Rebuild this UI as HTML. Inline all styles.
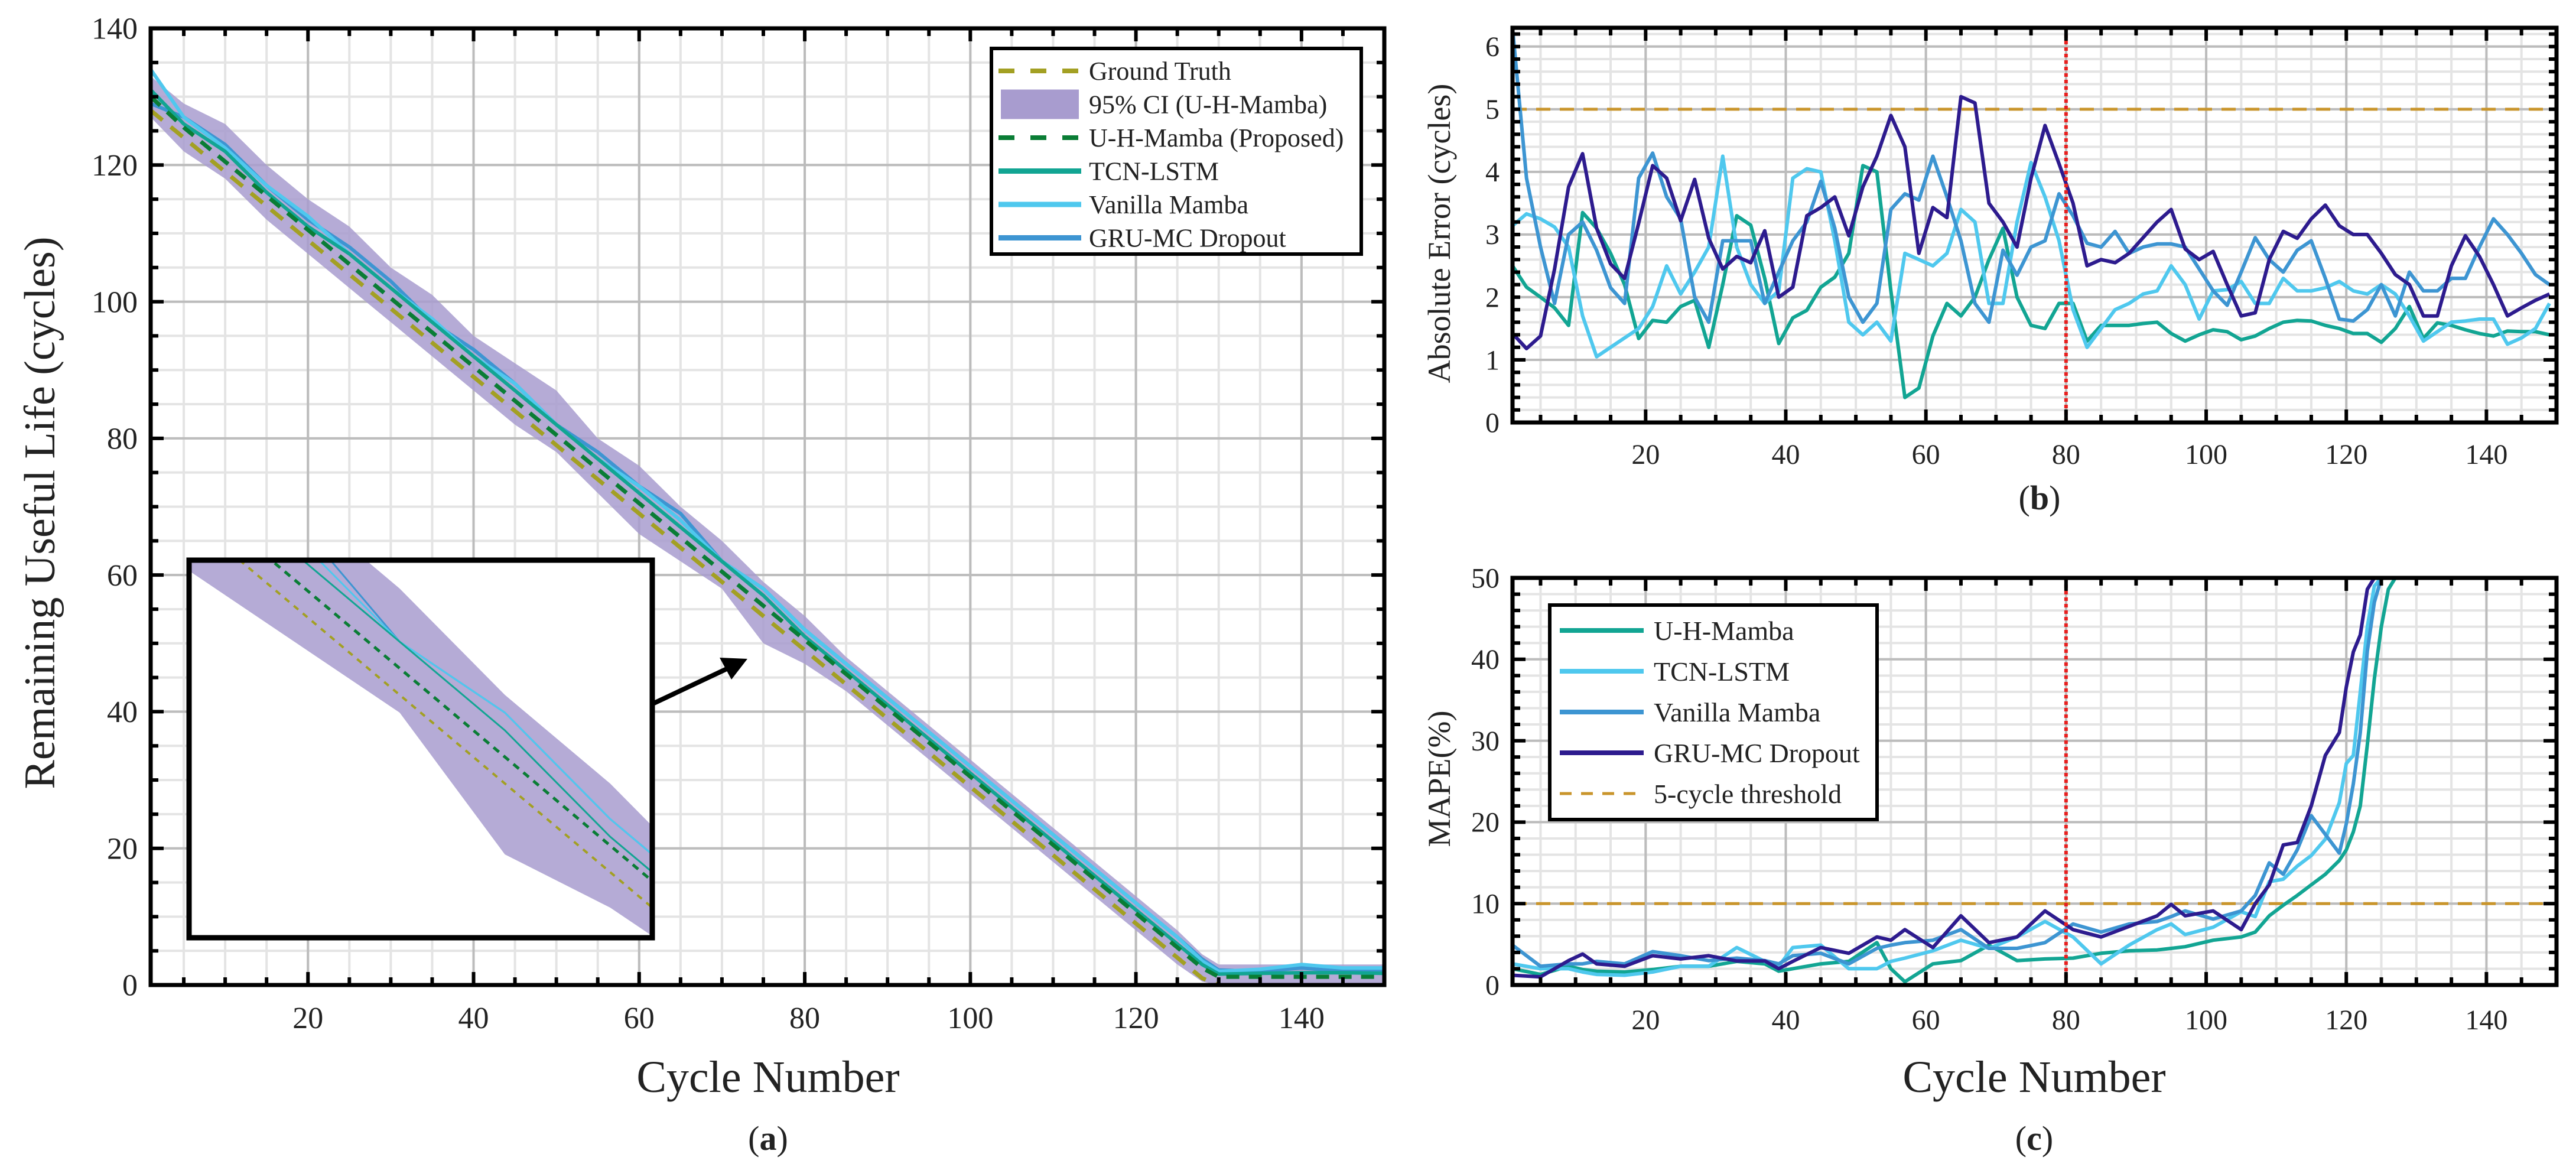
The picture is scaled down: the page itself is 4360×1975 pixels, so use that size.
<!DOCTYPE html>
<html><head><meta charset="utf-8">
<style>
html,body{margin:0;padding:0;background:#fff;width:4360px;height:1975px;overflow:hidden;}
svg{display:block;}
text{font-family:"Liberation Serif","DejaVu Serif",serif;fill:#222;}
</style></head>
<body>
<svg id="fig" xmlns="http://www.w3.org/2000/svg" width="4360" height="1975" viewBox="0 0 4360 1975"></svg>
<script>
// ---------- Panel (a) data ----------
const cyclesA = [1,5,10,15,20,25,30,35,40,45,50,55,60,65,70,75,80,85,90,95,100,105,110,115,120,125,128,130,135,140,145,150];
const groundTruth = [128,124,119,114,109,104,99,94,89,84,79,74,69,64,59,54,49,44,39,34,29,24,19,14,9,4,1,0,0,0,0,0];
const uhMambaPred = [130,125.5,120.5,115.5,110.5,105.5,100.5,95.5,90.5,85.5,80.5,75.5,70.5,65.5,60.5,55.5,50.5,45.5,40.5,35.5,30.5,25.5,20.5,15.5,10.5,5.5,2.5,1.2,1.2,1.2,1.2,1.2];
const tcnPredA = [131,126,122,116,111,107,102,97,92,87,82,77,72,67,62,57,51,46,41,36,31,26,21,16,11,6,3,1.6,1.7,1.8,1.8,1.7];
const vanillaPredA = [134,127,122.5,117,112.5,107,102,97.5,92,88,82,77,73,68,62,58,52,47,42,37,32,27,22,17,12,7,3.5,2,2.3,3,2.5,2.5];
const gruPredA = [129,127,123,117,112,108,103,97,93,88,82,78,73,69,62,58,52,47,42,37,32,27,22,17,12,7,3.8,2.2,2,2.5,2,2.2];
const ciUpper = [133,129,126,120,115,111,105,101,95,91,87,80,76,70,65,59,54,48,43,38,33,28,23,18,13,8,4.5,3,3,3,3,3];
const ciLower = [127,122,118,112,107,102,97,92,87,82,78,72,66,62,58,50,47,43,38,33,28,23,18,13,8,3,0.5,0,0,0,0,0];
const ticksAX = [20,40,60,80,100,120,140];
const ticksAY = [0,20,40,60,80,100,120,140];

// ---------- Panel (b) data: absolute error ----------
const cyclesB = [1,3,5,7,9,11,13,15,17,19,21,23,25,27,29,31,33,35,37,39,41,43,45,47,49,51,53,55,57,59,61,63,65,67,69,71,73,75,77,79,81,83,85,87,89,91,93,95,97,99,101,103,105,107,109,111,113,115,117,119,121,123,125,127,129,131,133,135,137,139,141,143,145,147,149];
const errUH = [2.5,2.16,2.0,1.83,1.55,3.35,3.1,2.7,2.2,1.34,1.63,1.6,1.85,1.95,1.2,2.2,3.3,3.15,2.3,1.26,1.67,1.79,2.16,2.32,2.7,4.1,4.0,2.1,0.4,0.55,1.38,1.9,1.7,2.0,2.6,3.1,2.0,1.55,1.5,1.9,1.9,1.3,1.55,1.55,1.55,1.58,1.6,1.42,1.3,1.4,1.48,1.45,1.32,1.38,1.5,1.6,1.63,1.62,1.55,1.5,1.42,1.42,1.28,1.5,1.85,1.34,1.59,1.55,1.48,1.42,1.38,1.46,1.45,1.45,1.4];
const errTCN = [3.14,3.33,3.25,3.12,2.8,1.7,1.05,1.2,1.35,1.5,1.85,2.5,2.05,2.4,2.8,4.25,2.8,2.2,1.9,2.1,3.9,4.05,4.0,2.9,1.6,1.4,1.6,1.3,2.7,2.6,2.5,2.7,3.4,3.2,1.9,1.9,3.2,4.15,3.6,2.9,1.8,1.2,1.5,1.8,1.9,2.05,2.1,2.5,2.2,1.65,2.1,2.12,2.25,1.9,1.9,2.3,2.1,2.1,2.15,2.25,2.1,2.05,2.2,2.05,1.7,1.3,1.45,1.6,1.62,1.65,1.65,1.25,1.35,1.5,1.9];
const errVanilla = [6.3,3.9,2.8,1.9,3.0,3.2,2.75,2.15,1.9,3.9,4.3,3.6,3.25,2.0,1.6,2.9,2.9,2.9,1.9,2.4,2.9,3.2,3.85,3.1,2.0,1.6,1.9,3.4,3.65,3.55,4.25,3.6,2.9,1.9,1.6,2.75,2.35,2.8,2.9,3.65,3.3,2.86,2.8,3.05,2.7,2.8,2.85,2.85,2.8,2.45,2.1,1.87,2.4,2.95,2.6,2.4,2.75,2.9,2.3,1.65,1.62,1.8,2.2,1.7,2.4,2.1,2.1,2.3,2.3,2.8,3.25,3.0,2.7,2.36,2.2];
const errGRU = [1.42,1.18,1.38,2.45,3.76,4.29,3.1,2.53,2.3,3.18,4.1,3.9,3.22,3.88,2.94,2.45,2.65,2.55,3.06,2.0,2.16,3.3,3.43,3.6,2.98,3.76,4.25,4.9,4.4,2.7,3.43,3.27,5.2,5.1,3.5,3.2,2.8,3.9,4.74,4.13,3.5,2.5,2.6,2.55,2.7,2.95,3.2,3.4,2.77,2.6,2.73,2.2,1.7,1.75,2.6,3.05,2.94,3.25,3.47,3.14,3.0,3.0,2.7,2.36,2.2,1.7,1.7,2.5,2.98,2.65,2.2,1.7,1.83,1.95,2.05];
const ticksBY = [0,1,2,3,4,5,6];
const thresholdB = 5;

// ---------- Panel (c) data: MAPE ----------
const cyclesC = [1,5,9,11,13,17,21,25,29,33,37,39,41,45,49,53,55,57,61,65,69,73,77,81,85,89,93,95,97,101,105,107,109,111,113,115,117,119,120,121,122,123,124,125,126,127,150];
const mapeUH = [2.0,1.3,2.3,1.9,1.7,1.6,1.9,2.3,2.3,2.9,2.6,1.7,2.0,2.6,2.9,5.2,2.0,0.4,2.6,3.0,4.9,3.0,3.2,3.3,3.9,4.2,4.3,4.5,4.7,5.5,5.9,6.5,8.5,9.8,11,12.3,13.6,15.3,16.6,18.8,22,29.5,37.6,44,48.6,50,50];
const mapeTCN = [2.6,2.0,2.0,1.6,1.3,1.2,1.6,2.3,2.3,4.6,2.9,2.3,4.6,4.9,2.0,2.0,2.9,3.3,4.2,5.5,4.5,5.9,7.8,5.9,2.6,4.9,6.8,7.5,6.2,7.1,9.0,8.4,12.7,13,14.6,15.9,17.9,22.4,27.2,28.2,36,44,49,50,50,50,50];
const mapeVanilla = [4.9,2.3,2.6,2.6,2.9,2.6,4.1,3.6,3.0,3.3,3.0,2.6,3.6,3.9,2.6,4.5,4.9,5.2,5.5,6.8,4.5,4.5,5.2,7.5,6.5,7.5,7.8,8.4,9.1,8.1,9.1,11,15,13.6,16.6,20.8,18.5,16.2,19.8,24.7,31,41,47,50,50,50,50];
const mapeGRU = [1.2,1.0,3.0,3.8,2.6,2.3,3.6,3.2,3.6,2.95,2.95,2.0,2.9,4.6,3.9,5.9,5.5,6.8,4.6,8.5,5.2,5.9,9.1,6.8,5.9,7.2,8.5,9.9,8.5,9.1,6.8,10,12.3,17.2,17.5,22,28.2,31,36.6,40.9,43,48.6,50,50,50,50,50];
const ticksCY = [0,10,20,30,40,50];
const thresholdC = 10;
const splitCycle = 80;

const NS = "http://www.w3.org/2000/svg";
const svg = document.getElementById("fig");
function mk(tag, attrs, parent){
  const e = document.createElementNS(NS, tag);
  for (const k in attrs) e.setAttribute(k, attrs[k]);
  (parent||svg).appendChild(e);
  return e;
}
function lin(d0,d1,r0,r1){ return v => r0 + (v-d0)*(r1-r0)/(d1-d0); }
function pts(xs, ys, sx, sy){ return xs.map((x,i)=>sx(x).toFixed(1)+","+sy(ys[i]).toFixed(1)).join(" "); }

const C = {teal:"#12a593", light:"#4fc8ee", med:"#3d95d2", dark:"#2d1b8e", olive:"#a3a023", green:"#0a7d35", ci:"#a89ccf", thr:"#c9952c", red:"#e8201f"};

function drawGrid(g, P, xMinor, yMinor, xMajor, yMajor){
  for (let v=xMinor[0]; v<=P.xd[1]; v+=xMinor[1]){
    const l = mk("line",{x1:P.sx(v),x2:P.sx(v),y1:P.y0,y2:P.y1,stroke:"#e4e4e4","stroke-width":4},g);
     
  }
  for (let v=yMinor[0]; v<=P.yd[1]; v+=yMinor[1]){
    const l = mk("line",{x1:P.x0,x2:P.x1,y1:P.sy(v),y2:P.sy(v),stroke:"#e4e4e4","stroke-width":4},g);
     
  }
  xMajor.forEach(v=>{
    const l = mk("line",{x1:P.sx(v),x2:P.sx(v),y1:P.y0,y2:P.y1,stroke:"#bcbcbc","stroke-width":4},g);
     
  });
  yMajor.forEach(v=>{
    const l = mk("line",{x1:P.x0,x2:P.x1,y1:P.sy(v),y2:P.sy(v),stroke:"#bcbcbc","stroke-width":4},g);
     
  });
}
function drawFrame(g, P, xMinor, yMinor, xMajor, yMajor, ySize, xLabelY){
  for (let v=xMinor[0]; v<=P.xd[1]; v+=xMinor[1]){
    const L = xMajor.includes(v)?22:13, x=P.sx(v);
    mk("line",{x1:x,x2:x,y1:P.y1,y2:P.y1-L,stroke:"#000","stroke-width":6},g);
    mk("line",{x1:x,x2:x,y1:P.y0,y2:P.y0+L,stroke:"#000","stroke-width":6},g);
  }
  for (let v=yMinor[0]; v<=P.yd[1]; v+=yMinor[1]){
    const L = yMajor.includes(v)?22:13, y=P.sy(v);
    mk("line",{x1:P.x0,x2:P.x0+L,y1:y,y2:y,stroke:"#000","stroke-width":6},g);
    mk("line",{x1:P.x1,x2:P.x1-L,y1:y,y2:y,stroke:"#000","stroke-width":6},g);
  }
  const fr = mk("rect",{x:P.x0,y:P.y0,width:P.x1-P.x0,height:P.y1-P.y0,fill:"none",stroke:"#000","stroke-width":7},g);
   
  xMajor.forEach(v=>{
    const t = mk("text",{x:P.sx(v),y:xLabelY,"text-anchor":"middle","font-size":ySize},g);
    t.textContent = v;
     
  });
  yMajor.forEach(v=>{
    const t = mk("text",{x:P.x0-22,y:P.sy(v)+ySize*0.34,"text-anchor":"end","font-size":ySize},g);
    t.textContent = v;
     
  });
}
function series(g, xs, ys, P, color, w, dash, name){
  const a = {points:pts(xs,ys,P.sx,P.sy),fill:"none",stroke:color,"stroke-width":w,"stroke-linejoin":"round","stroke-linecap":"butt"};
  if (dash) a["stroke-dasharray"]=dash;
  const p = mk("polyline",a,g);
  
  
  return p;
}
function bandPath(xs, lo, hi, P){
  let d = "M"+xs.map((x,i)=>P.sx(x).toFixed(1)+","+P.sy(hi[i]).toFixed(1)).join(" L");
  for (let i=xs.length-1;i>=0;i--) d += " L"+P.sx(xs[i]).toFixed(1)+","+P.sy(lo[i]).toFixed(1);
  return d+" Z";
}

const defs = mk("defs",{});
function clip(id,x,y,w,h){ const c=mk("clipPath",{id:id},defs); mk("rect",{x:x,y:y,width:w,height:h},c); }

// ================= Panel A =================
const PA = {x0:255,x1:2343,y0:48,y1:1667,xd:[1,150],yd:[0,140]};
PA.sx = lin(1,150,PA.x0,PA.x1); PA.sy = lin(0,140,PA.y1,PA.y0);
clip("clipA",PA.x0,PA.y0,PA.x1-PA.x0,PA.y1-PA.y0);
const gA = mk("g",{});  
drawGrid(gA, PA, [5,5], [5,5], ticksAX, ticksAY);
const gAd = mk("g",{"clip-path":"url(#clipA)"},gA);
const band = mk("path",{d:bandPath(cyclesA,ciLower,ciUpper,PA),fill:C.ci,"fill-opacity":0.85},gAd);
 
series(gAd,cyclesA,groundTruth,PA,C.olive,7,"26,18","ground-truth-line");
series(gAd,cyclesA,gruPredA,PA,C.med,6,null,"gru-mc-dropout-line");
series(gAd,cyclesA,vanillaPredA,PA,C.light,6,null,"vanilla-mamba-line");
series(gAd,cyclesA,tcnPredA,PA,C.teal,6,null,"tcn-lstm-line");
series(gAd,cyclesA,uhMambaPred,PA,C.green,7,"22,16","u-h-mamba-line");
drawFrame(gA, PA, [5,5], [5,5], ticksAX, ticksAY, 52, 1740);

// inset
const IN = {x0:320,x1:1104,y0:948,y1:1587,xd:[60,82],yd:[45.3,66.6]};
IN.sx = lin(60,82,IN.x0,IN.x1); IN.sy = lin(45.3,66.6,IN.y1,IN.y0);
clip("clipIn",IN.x0,IN.y0,IN.x1-IN.x0,IN.y1-IN.y0);
const gI = mk("g",{});  
mk("rect",{x:IN.x0,y:IN.y0,width:IN.x1-IN.x0,height:IN.y1-IN.y0,fill:"#fff"},gI);
const gIc = mk("g",{"clip-path":"url(#clipIn)"},gI);
const band2 = mk("path",{d:bandPath(cyclesA,ciLower,ciUpper,IN),fill:C.ci,"fill-opacity":0.85},gIc);
 
series(gIc,cyclesA,groundTruth,IN,C.olive,4,"10,10","inset-ground-truth");
series(gIc,cyclesA,uhMambaPred,IN,C.green,5,"12,10","inset-u-h-mamba");
series(gIc,cyclesA,gruPredA,IN,C.med,3,null,"inset-gru");
series(gIc,cyclesA,vanillaPredA,IN,C.light,3,null,"inset-vanilla");
series(gIc,cyclesA,tcnPredA,IN,C.teal,3,null,"inset-tcn");
const ib = mk("rect",{x:IN.x0,y:IN.y0,width:IN.x1-IN.x0,height:IN.y1-IN.y0,fill:"none",stroke:"#000","stroke-width":9},gI);
 
const ar = mk("line",{x1:1107,y1:1190,x2:1232,y2:1131,stroke:"#000","stroke-width":8});
 
const ah = mk("polygon",{points:"1265,1115 1218,1113 1238,1150",fill:"#000"});
 

// legend A
const gLA = mk("g",{});  
mk("rect",{x:1678,y:82,width:626,height:348,fill:"#fff",stroke:"#000","stroke-width":6},gLA);
const legA = [["Ground Truth",C.olive,"dash"],["95% CI (U-H-Mamba)",C.ci,"box"],["U-H-Mamba (Proposed)",C.green,"dash"],["TCN-LSTM",C.teal,"line"],["Vanilla Mamba",C.light,"line"],["GRU-MC Dropout",C.med,"line"]];
legA.forEach((e,i)=>{
  const y = 120 + i*56.5;
  const g = mk("g",{},gLA);  
  if (e[2]==="box") mk("rect",{x:1694,y:y-25,width:132,height:50,fill:e[1]},g);
  else mk("line",{x1:1690,x2:1830,y1:y,y2:y,stroke:e[1],"stroke-width":e[2]==="dash"?8:9,"stroke-dasharray":e[2]==="dash"?"27,27":"none"},g);
  const t = mk("text",{x:1843,y:y+15,"font-size":44},g); t.textContent=e[0];
});

let t;
t = mk("text",{x:0,y:0,"font-size":74,"text-anchor":"middle",transform:"translate(92,868) rotate(-90)"}); t.textContent="Remaining Useful Life (cycles)";
 
t = mk("text",{x:1300,y:1848,"font-size":76,"text-anchor":"middle"}); t.textContent="Cycle Number";
 
t = mk("text",{x:1300,y:1946,"font-size":58,"text-anchor":"middle"}); t.innerHTML='(<tspan font-weight="bold">a</tspan>)';
 

// ================= Panel B =================
const PB = {x0:2560,x1:4327,y0:47,y1:715,xd:[1,150],yd:[0,6.3]};
PB.sx = lin(1,150,PB.x0,PB.x1); PB.sy = lin(0,6.3,PB.y1,PB.y0);
clip("clipB",PB.x0,PB.y0,PB.x1-PB.x0,PB.y1-PB.y0);
const gB = mk("g",{});  
drawGrid(gB, PB, [5,5], [0.2,0.2], ticksAX, ticksBY);
const gBd = mk("g",{"clip-path":"url(#clipB)"},gB);
let l = mk("line",{x1:PB.x0,x2:PB.x1,y1:PB.sy(thresholdB),y2:PB.sy(thresholdB),stroke:C.thr,"stroke-width":5,"stroke-dasharray":"24,16"},gBd);
 
series(gBd,cyclesB,errUH,PB,C.teal,6,null,"u-h-mamba-error");
series(gBd,cyclesB,errTCN,PB,C.light,6,null,"tcn-lstm-error");
series(gBd,cyclesB,errVanilla,PB,C.med,6,null,"vanilla-mamba-error");
series(gBd,cyclesB,errGRU,PB,C.dark,6,null,"gru-mc-dropout-error");
l = mk("line",{x1:PB.sx(splitCycle),x2:PB.sx(splitCycle),y1:PB.y0,y2:PB.y1,stroke:C.red,"stroke-width":6,"stroke-dasharray":"6,5"},gB);
 
drawFrame(gB, PB, [5,5], [0.2,0.2], ticksAX, ticksBY, 48, 785);
t = mk("text",{x:0,y:0,"font-size":54,"text-anchor":"middle",transform:"translate(2454,395) rotate(-90)"}); t.textContent="Absolute Error (cycles)";
 
t = mk("text",{x:3452,y:862,"font-size":58,"text-anchor":"middle"}); t.innerHTML='(<tspan font-weight="bold">b</tspan>)';
 

// ================= Panel C =================
const PC = {x0:2560,x1:4327,y0:978,y1:1667,xd:[1,150],yd:[0,50]};
PC.sx = lin(1,150,PC.x0,PC.x1); PC.sy = lin(0,50,PC.y1,PC.y0);
clip("clipC",PC.x0,PC.y0-5,PC.x1-PC.x0,PC.y1-PC.y0+5);
const gC = mk("g",{});  
drawGrid(gC, PC, [5,5], [2,2], ticksAX, ticksCY);
const gCd = mk("g",{"clip-path":"url(#clipC)"},gC);
l = mk("line",{x1:PC.x0,x2:PC.x1,y1:PC.sy(thresholdC),y2:PC.sy(thresholdC),stroke:C.thr,"stroke-width":5,"stroke-dasharray":"24,16"},gCd);
 
series(gCd,cyclesC,mapeUH,PC,C.teal,6,null,"u-h-mamba-mape");
series(gCd,cyclesC,mapeTCN,PC,C.light,6,null,"tcn-lstm-mape");
series(gCd,cyclesC,mapeVanilla,PC,C.med,6,null,"vanilla-mamba-mape");
series(gCd,cyclesC,mapeGRU,PC,C.dark,6,null,"gru-mc-dropout-mape");
l = mk("line",{x1:PC.sx(splitCycle),x2:PC.sx(splitCycle),y1:PC.y0,y2:PC.y1,stroke:C.red,"stroke-width":6,"stroke-dasharray":"6,5"},gC);
 
drawFrame(gC, PC, [5,5], [2,2], ticksAX, ticksCY, 48, 1742);
const gLC = mk("g",{});  
mk("rect",{x:2623,y:1024,width:554,height:363,fill:"#fff",stroke:"#000","stroke-width":6},gLC);
const legC = [["U-H-Mamba",C.teal,"line"],["TCN-LSTM",C.light,"line"],["Vanilla Mamba",C.med,"line"],["GRU-MC Dropout",C.dark,"line"],["5-cycle threshold",C.thr,"dash"]];
legC.forEach((e,i)=>{
  const y = 1067 + i*69;
  const g = mk("g",{},gLC);  
  mk("line",{x1:2640,x2:2782,y1:y,y2:y,stroke:e[1],"stroke-width":e[2]==="dash"?5:8,"stroke-dasharray":e[2]==="dash"?"20,16":"none"},g);
  const tt = mk("text",{x:2799,y:y+16,"font-size":46},g); tt.textContent=e[0];
});
t = mk("text",{x:0,y:0,"font-size":54,"text-anchor":"middle",transform:"translate(2454,1318) rotate(-90)"}); t.textContent="MAPE(%)";
 
t = mk("text",{x:3443,y:1848,"font-size":76,"text-anchor":"middle"}); t.textContent="Cycle Number";
 
t = mk("text",{x:3443,y:1946,"font-size":58,"text-anchor":"middle"}); t.innerHTML='(<tspan font-weight="bold">c</tspan>)';
 
</script>
</body></html>
